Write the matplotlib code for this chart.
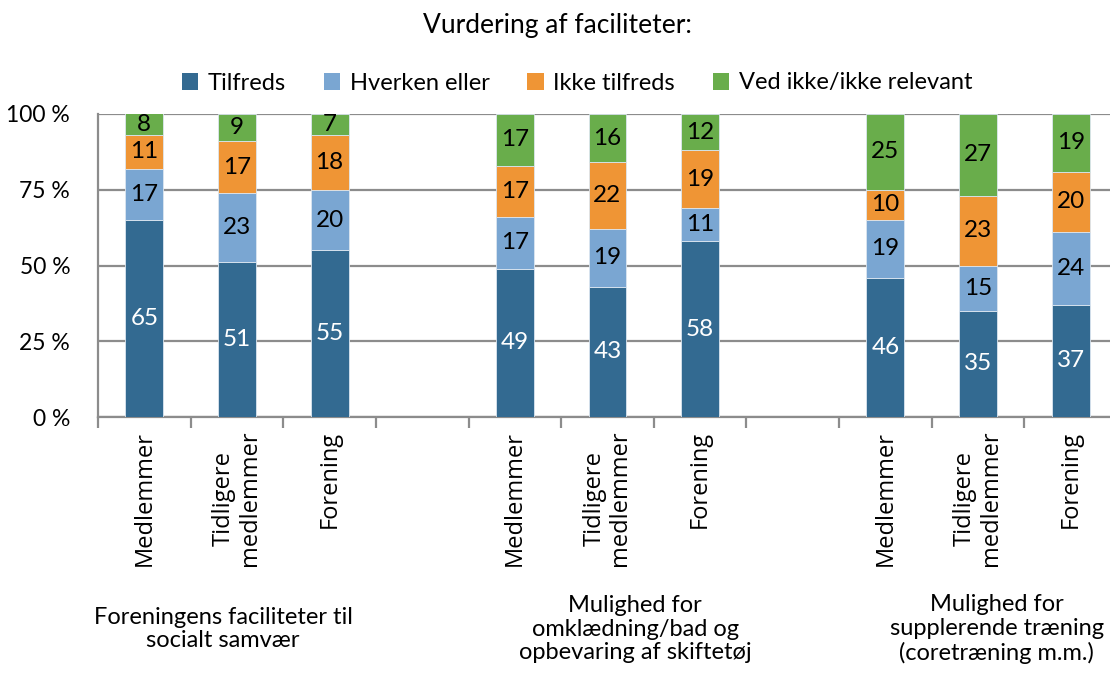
import numpy as np
import matplotlib.pyplot as plt
from matplotlib.patches import Patch

# kategorier og svar (procent)
grupper = ['Foreningens faciliteter til\nsocialt samvær',
           'Mulighed for\nomklædning/bad og\nopbevaring af skiftetøj',
           'Mulighed for\nsupplerende træning\n(coretræning m.m.)']
respondenter = ['Medlemmer', 'Tidligere\nmedlemmer', 'Forening']
serier = ['Tilfreds', 'Hverken eller', 'Ikke tilfreds', 'Ved ikke/ikke relevant']

tilfreds = [65, 51, 55, 49, 43, 58, 46, 35, 37]
hverken = [17, 23, 20, 17, 19, 11, 19, 15, 24]
ikke_tilfreds = [11, 17, 18, 17, 22, 19, 10, 23, 20]
ved_ikke = [8, 9, 7, 17, 16, 12, 25, 27, 19]

farver = ['#336A91', '#7AA6D2', '#EF9535', '#69AD4B']
tekstfarver = ['white', 'black', 'black', 'black']

plt.rcParams['font.family'] = ['Lato', 'DejaVu Sans']

fig = plt.figure(figsize=(11.1, 6.8), dpi=100)
ax = fig.add_axes([98/1110, 1-417/680, 1019/1110, (417-114)/680])

# 11 pladser: 3 søjler pr. gruppe, tom plads mellem grupperne
pos = [0, 1, 2, 4, 5, 6, 8, 9, 10]
data = [tilfreds, hverken, ikke_tilfreds, ved_ikke]
bund = np.zeros(len(pos))
for vals, f, tf in zip(data, farver, tekstfarver):
    vals = np.array(vals, dtype=float)
    bars = ax.bar(pos, vals, bottom=bund, width=0.41, color=f,
                  edgecolor='#DCE6F0', linewidth=0.6, zorder=3)
    for b, v, y0 in zip(bars, vals, bund):
        top = min(y0 + v, 100)
        ax.text(b.get_x() + b.get_width()/2, (y0 + top)/2, f'{int(v)}',
                ha='center', va='center', fontsize=17.5, color=tf, zorder=4)
    bund += vals

ax.set_xlim(-0.5, 10.5)
ax.set_ylim(0, 100)
ax.set_yticks([0, 25, 50, 75, 100])
ax.set_yticklabels(['0 %', '25 %', '50 %', '75 %', '100 %'], fontsize=16.5)
ax.yaxis.grid(True, color='#8C8C8C', linewidth=1.6, zorder=0)
ax.tick_params(axis='y', length=0, pad=20)

ax.set_xticks(np.arange(-0.5, 11, 1))
ax.set_xticklabels([])
ax.tick_params(axis='x', direction='out', length=8, width=1.6, color='#8C8C8C')

for s in ['top', 'right']:
    ax.spines[s].set_visible(False)
for s in ['left', 'bottom']:
    ax.spines[s].set_color('#8C8C8C')
    ax.spines[s].set_linewidth(1.6)

# respondent-etiketter, lodret
for i, p in enumerate(pos):
    ax.text(p, -4.5, respondenter[i % 3], rotation=90, ha='center', va='top',
            fontsize=17, family=['Open Sans', 'DejaVu Sans'],
            multialignment='center', linespacing=1.1, clip_on=False)

# gruppe-etiketter
gx = [0.85, 5.3, 9.2]
for x, g in zip(gx, grupper):
    ax.text(x, -70, g, ha='center', va='center', fontsize=17,
            linespacing=1.15, clip_on=False)

fig.text(557/1110, 1-25/680, 'Vurdering af faciliteter:', ha='center',
         va='center', fontsize=19)

handles = [Patch(facecolor=f, edgecolor='none') for f in farver]
fig.legend(handles, serier, loc='center', bbox_to_anchor=(577/1110, 1-83/680),
           ncol=4, frameon=False, fontsize=17, handlelength=0.7,
           handleheight=0.7, handletextpad=0.4, columnspacing=1.6)

fig.savefig('out.png', dpi=100)
